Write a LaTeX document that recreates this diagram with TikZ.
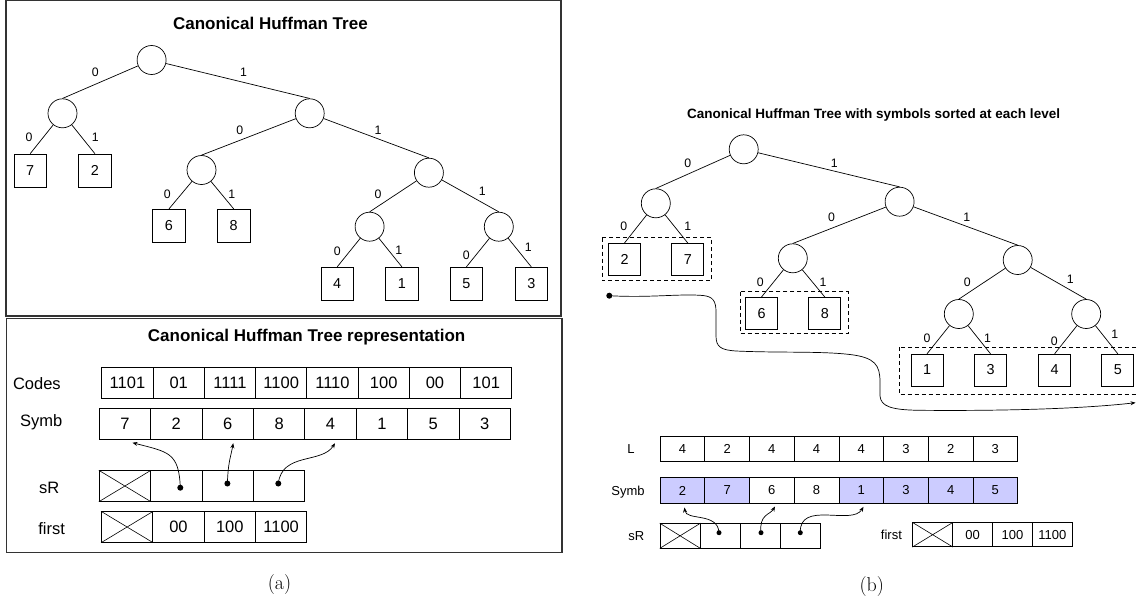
\documentclass[tikz,border=0pt]{standalone}
\usepackage{fontspec}
\newfontfamily\arial{Liberation Sans}
\usetikzlibrary{arrows.meta}
\definecolor{lav}{RGB}{204,204,255}
\begin{document}
\begin{tikzpicture}[x=1pt,y=-1pt,
 inner/.style={circle,draw,line width=0.7pt,minimum size=29pt,inner sep=0pt},
 leafA/.style={draw,line width=0.7pt,minimum width=32.5pt,minimum height=33pt,inner sep=0pt,font=\arial\fontsize{14.4}{16}\selectfont},
 leafB/.style={draw,line width=0.7pt,minimum width=32pt,minimum height=31.7pt,inner sep=0pt,font=\arial\fontsize{14.4}{16}\selectfont},
 elab/.style={inner sep=0pt,font=\arial\fontsize{12.3}{14}\selectfont},
 edge/.style={line width=0.7pt},
 ttlA/.style={inner sep=0pt,font=\arial\bfseries\fontsize{17}{20}\selectfont},
 ttlB/.style={inner sep=0pt,font=\arial\bfseries\fontsize{13.5}{16}\selectfont},
 frame/.style={draw=black!80,line width=1.2pt},
 dashbox/.style={draw,line width=0.7pt,dash pattern=on 4pt off 3pt},
 cellA/.style={draw,line width=0.8pt,minimum width=51.3pt,minimum height=31pt,inner sep=0pt,font=\arial\fontsize{16.5}{18}\selectfont},
 cellB/.style={draw,line width=0.7pt,minimum width=44.7pt,minimum height=25pt,inner sep=0pt,font=\arial\fontsize{13}{15}\selectfont},
 cellC/.style={draw,line width=0.7pt,minimum width=40pt,minimum height=24.5pt,inner sep=0pt,font=\arial\fontsize{13}{15}\selectfont},
 lblA/.style={inner sep=0pt,font=\arial\fontsize{16.5}{18}\selectfont},
 lblB/.style={inner sep=0pt,font=\arial\fontsize{13}{15}\selectfont},
 dotn/.style={circle,fill,inner sep=0pt,minimum size=6pt},
 arr/.style={line width=0.7pt,-{Stealth[length=5pt,width=4pt]}},
 capt/.style={inner sep=0pt,font=\fontsize{20}{24}\selectfont}
]
\useasboundingbox (0,0) rectangle (1138,600);

% ---------- frames (a)
\draw[frame] (6,0.8) rectangle (561,316);
\draw[frame] (6.5,318.5) rectangle (562,552.7);

% ---------- tree (a)
\node[ttlA] (tA) at (270.4,23.5) {Canonical Huffman Tree};
\node[inner] (ar) at (151.6,60) {};
\node[inner] (a1) at (62.5,113.3) {};
\node[inner] (a2) at (309.7,113.3) {};
\node[leafA] (l7) at (30.2,170.5) {7};
\node[leafA] (l2) at (94.9,170.5) {2};
\node[inner] (a3) at (201.5,170) {};
\node[inner] (a4) at (428.9,172.7) {};
\node[leafA] (l6) at (169,225.7) {6};
\node[leafA] (l8) at (233.7,225.7) {8};
\node[inner] (a5) at (369.6,226.7) {};
\node[inner] (a6) at (498.8,226.7) {};
\node[leafA] (l4) at (337.2,283.7) {4};
\node[leafA] (l1) at (401.9,283.7) {1};
\node[leafA] (l5) at (466.4,283.7) {5};
\node[leafA] (l3) at (531.3,283.7) {3};
\draw[edge] (ar) -- (a1.north);
\draw[edge] (ar) -- (a2.north);
\draw[edge] (a1) -- (l7.north);
\draw[edge] (a1) -- (l2.north);
\draw[edge] (a2) -- (a3.north);
\draw[edge] (a2) -- (a4.north);
\draw[edge] (a3) -- (l6.north);
\draw[edge] (a3) -- (l8.north);
\draw[edge] (a4) -- (a5.north);
\draw[edge] (a4) -- (a6.north);
\draw[edge] (a5) -- (l4.north);
\draw[edge] (a5) -- (l1.north);
\draw[edge] (a6) -- (l5.north);
\draw[edge] (a6) -- (l3.north);
\node[elab] (e1) at (95.2,72.7) {0};
\node[elab] (e2) at (243.5,72.7) {1};
\node[elab] (e3) at (29.1,137.7) {0};
\node[elab] (e4) at (95.2,137.7) {1};
\node[elab] (e5) at (239.9,130) {0};
\node[elab] (e6) at (378,130) {1};
\node[elab] (e7) at (167.2,194) {0};
\node[elab] (e8) at (231.9,194) {1};
\node[elab] (e9) at (378,194) {0};
\node[elab] (e10) at (482.4,191.7) {1};
\node[elab] (e11) at (337.3,251.7) {0};
\node[elab] (e12) at (398.8,250.7) {1};
\node[elab] (e13) at (466.4,255) {0};
\node[elab] (e14) at (528.2,247.3) {1};

% ---------- representation (a)
\node[ttlA] (tR) at (306.6,336.7) {Canonical Huffman Tree representation};
\node[lblA] (lc) at (36.9,383.3) {Codes};
\node[lblA] (ls) at (41.1,422.3) {Symb};
\node[lblA] (lr) at (49.1,487.7) {sR};
\node[lblA] (lf) at (51.6,528.3) {first};
\foreach \t [count=\i from 0] in {1101,01,1111,1100,1110,100,00,101}
  \node[cellA] (codes\i) at ({127.45+51.25*\i},383.2) {\t};
\foreach \t [count=\i from 0] in {7,2,6,8,4,1,5,3}
  \node[cellA,minimum height=30.6pt] (symA\i) at ({124.9+51.4*\i},424) {\t};
\foreach \i in {0,1,2,3}
  \node[cellA,minimum height=30.6pt] (srA\i) at ({124.9+51.35*\i},486) {};
\draw[line width=0.6pt] (srA0.north west) -- (srA0.south east) (srA0.south west) -- (srA0.north east);
\node[cellA,minimum height=30.6pt] (fiA0) at (127.1,527) {};
\draw[line width=0.6pt] (fiA0.north west) -- (fiA0.south east) (fiA0.south west) -- (fiA0.north east);
\foreach \t [count=\i from 1] in {00,100,1100}
  \node[cellA,minimum height=30.6pt] (fiA\i) at ({127.1+51.35*\i},527) {\t};
\node[dotn] (ad1) at (180.3,487.7) {};
\node[dotn] (ad2) at (227.4,483.5) {};
\node[dotn] (ad3) at (278.3,483.5) {};
\coordinate (at1) at (132.5,442.7);
\coordinate (at2) at (233.2,443.2);
\coordinate (at3) at (335,443.2);
\draw[arr] (ad1.center) .. controls (179,452) and (168,452) .. (at1);
\draw[arr] (ad2.center) .. controls (228,462) and (231,456) .. (at2);
\draw[arr] (ad3.center) .. controls (282,452) and (322,464) .. (at3);
\node[capt] (ca) at (279.5,585) {(a)};

% ---------- tree (b)
\node[ttlB] (tB) at (873.6,115) {Canonical Huffman Tree with symbols sorted at each level};
\node[inner] (br) at (743.7,149.3) {};
\node[inner] (b1) at (655.8,203.3) {};
\node[inner] (b2) at (899.6,201.7) {};
\node[leafB] (m2) at (624.5,259.2) {2};
\node[leafB] (m7) at (687.8,259.2) {7};
\node[inner] (b3) at (792.8,258.3) {};
\node[inner] (b4) at (1017.7,260) {};
\node[leafB] (m6) at (761.5,313.2) {6};
\node[leafB] (m8) at (824.8,313.2) {8};
\node[inner] (b5) at (958.8,314) {};
\node[inner] (b6) at (1086.2,314) {};
\node[leafB] (m1) at (927,370) {1};
\node[leafB] (m3) at (990.5,370) {3};
\node[leafB] (m4) at (1054.6,370) {4};
\node[leafB] (m5) at (1117.8,370) {5};
\draw[edge] (br) -- (b1.north);
\draw[edge] (br) -- (b2.north);
\draw[edge] (b1) -- (m2.north);
\draw[edge] (b1) -- (m7.north);
\draw[edge] (b2) -- (b3.north);
\draw[edge] (b2) -- (b4.north);
\draw[edge] (b3) -- (m6.north);
\draw[edge] (b3) -- (m8.north);
\draw[edge] (b4) -- (b5.north);
\draw[edge] (b4) -- (b6.north);
\draw[edge] (b5) -- (m1.north);
\draw[edge] (b5) -- (m3.north);
\draw[edge] (b6) -- (m4.north);
\draw[edge] (b6) -- (m5.north);
\node[elab] (f1) at (687.8,163.3) {0};
\node[elab] (f2) at (834.4,163.3) {1};
\node[elab] (f3) at (623.8,226.7) {0};
\node[elab] (f4) at (687.8,226.7) {1};
\node[elab] (f5) at (831.6,217.7) {0};
\node[elab] (f6) at (966.8,217.7) {1};
\node[elab] (f7) at (760.4,282.3) {0};
\node[elab] (f8) at (823.1,282.3) {1};
\node[elab] (f9) at (967.2,282.3) {0};
\node[elab] (f10) at (1070.4,279.3) {1};
\node[elab] (f11) at (927,338.3) {0};
\node[elab] (f12) at (987.5,338.3) {1};
\node[elab] (f13) at (1054.4,341.7) {0};
\node[elab] (f14) at (1114.9,334) {1};
\draw[dashbox] (602.4,237.7) rectangle (711.7,280.7);
\draw[dashbox] (740,291.5) rectangle (848.2,333);
\draw[dashbox] (899.2,347) rectangle (1145,394.7);

% ---------- long connector (b)
\node[dotn] (bs) at (609.3,295.7) {};
\coordinate (be) at (1135.5,402.7);
\draw[arr] (bs.center) .. controls (650,298) and (680,293.5) .. (703,295.5)
  .. controls (713,296.5) and (716,301) .. (716,312) -- (716,336)
  .. controls (716,347) and (721,350) .. (736,351)
  .. controls (780,353) and (820,351) .. (850,354.5)
  .. controls (875,357.5) and (880,365) .. (880,382) -- (880,396)
  .. controls (881,406) and (890,410) .. (920,410.3)
  .. controls (1000,411) and (1080,409) .. (be);

% ---------- tables (b)
\node[lblB] (lL) at (630.9,449) {L};
\node[lblB] (lS) at (628,491.7) {Symb};
\node[lblB] (lR) at (636.2,536) {sR};
\node[lblB] (lF) at (891.4,535) {first};
\foreach \t [count=\i from 0] in {4,2,4,4,4,3,2,3}
  \node[cellB] (Lb\i) at ({682.45+44.7*\i},449.2) {\t};
\foreach \t/\f [count=\i from 0] in {2/lav,7/lav,6/white,8/white,1/lav,3/lav,4/lav,5/lav}
  \node[cellB,fill=\f,minimum height=25.6pt] (symB\i) at ({682.45+44.7*\i},490.5) {\t};
\foreach \i in {0,1,2,3}
  \node[cellC] (srB\i) at ({680.1+40*\i},535.8) {};
\draw[line width=0.6pt] (srB0.north west) -- (srB0.south east) (srB0.south west) -- (srB0.north east);
\node[cellC,minimum width=39.9pt,minimum height=24pt] (fiB0) at (932.65,534.7) {};
\draw[line width=0.6pt] (fiB0.north west) -- (fiB0.south east) (fiB0.south west) -- (fiB0.north east);
\foreach \t [count=\i from 1] in {00,100,1100}
  \node[cellC,minimum width=39.9pt,minimum height=24pt] (fiB\i) at ({932.65+39.9*\i},534.7) {\t};
\node[dotn,minimum size=5pt] (bd1) at (719,532.7) {};
\node[dotn,minimum size=5pt] (bd2) at (761,532.7) {};
\node[dotn,minimum size=5pt] (bd3) at (800.3,532.7) {};
\coordinate (bt1) at (684.5,507.5);
\coordinate (bt2) at (775,506.5);
\coordinate (bt3) at (863.5,506.8);
\draw[arr] (bd1.center) .. controls (718,512) and (686,521) .. (bt1);
\draw[arr] (bd2.center) .. controls (759,514) and (770,515) .. (bt2);
\draw[arr] (bd3.center) .. controls (799,500) and (852,526) .. (bt3);
\node[capt] (cb) at (871.8,586.7) {(b)};
\end{tikzpicture}
\end{document}
